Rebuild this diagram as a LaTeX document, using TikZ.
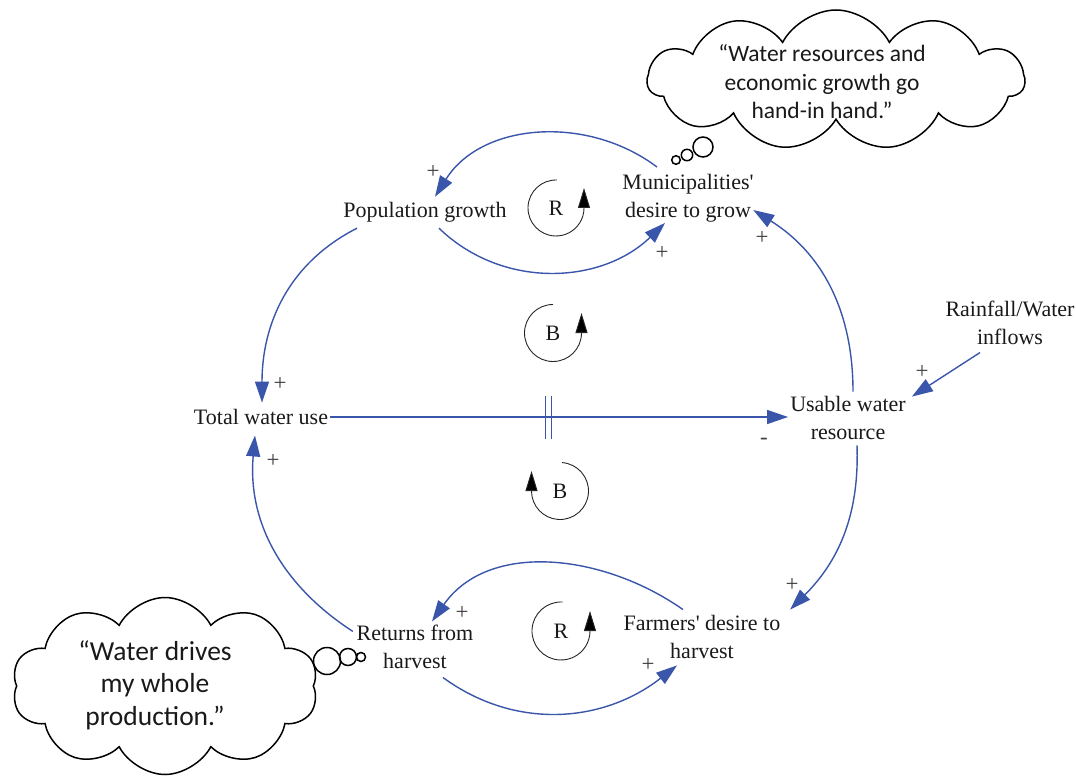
\documentclass[tikz,border=0pt]{standalone}
\usepackage{fontspec}
\setmainfont{Liberation Serif}
\newfontfamily\varfont{Liberation Serif}
\newfontfamily\cloudfont{Carlito}
\usetikzlibrary{arrows.meta,shapes.symbols}
\definecolor{linkblue}{RGB}{58,86,170}
\definecolor{signgray}{RGB}{64,64,64}
\begin{document}
\begin{tikzpicture}[x=1pt,y=1pt,
  var/.style={font=\varfont\fontsize{22}{27.5}\selectfont, align=center, inner sep=2pt, text=black!90},
  link/.style={draw=linkblue, line width=1.4pt, -{Triangle[length=21pt,width=14pt]}},
  plain/.style={draw=linkblue, line width=1.4pt},
  sign/.style={font=\fontsize{23}{23}\selectfont, text=signgray, inner sep=0pt},
  loopletter/.style={font=\fontsize{22}{22}\selectfont, inner sep=0pt, text=black!90},
  loopline/.style={draw=black!85, line width=0.9pt, -{Triangle[length=20pt,width=12pt,fill=black]}},
  thought/.style={cloud, draw=black, line width=1.5pt, cloud puffs=#1, cloud puff arc=125, cloud ignores aspect, inner sep=0pt},
  bubble/.style={draw=black, line width=1.5pt},
  quote/.style={align=center, inner sep=0pt, text=black!90}
]
\useasboundingbox (0,0) rectangle (1076,-778);

% variables
\node[var] (pop) at (425,-212) {Population growth};
\node[var] (muni) at (688,-198) {Municipalities'\\desire to grow};
\node[var] (total) at (261,-417) {Total water use};
\node[var] (usable) at (848,-418) {Usable water\\resource};
\node[var] (rain) at (1010,-323) {Rainfall/Water\\inflows};
\node[var] (returns) at (415,-647) {Returns from\\harvest};
\node[var] (farmers) at (702,-637) {Farmers' desire to\\harvest};

% connectors
\draw[link] ([shift={(-31,5)}]muni.north) to[out=143,in=58] ([shift={(10,3)}]pop.north);
\draw[link] ([shift={(14,-4)}]pop.south) to[out=-44,in=-136] ([shift={(-23,1)}]muni.south);
\draw[link] ([shift={(-68,-4)}]pop.south) to[out=207,in=90] ([shift={(1,4.5)}]total.north);
\draw[link] (total.east) -- coordinate[pos=0.477] (delay) (total.east -| usable.west);
\draw[plain] ([shift={(-3,21)}]delay) -- ++(0,-43);
\draw[plain] ([shift={(3,21)}]delay) -- ++(0,-43);
\draw[link] ([shift={(5,2.75)}]usable.north) to[out=90,in=-32] ([shift={(-2.5,-12)}]muni.east);
\draw[link] ([shift={(-30,-5.75)}]rain.south) -- ([shift={(4,-2.25)}]usable.north east);
\draw[link] ([shift={(9,-3.75)}]usable.south) to[out=-88,in=45] ([shift={(7.6,3.75)}]farmers.north east);
\draw[link] ([shift={(-19,3.75)}]farmers.north) to[out=145,in=55] ([shift={(17,1.75)}]returns.north);
\draw[link] ([shift={(28,-6.75)}]returns.south) to[out=-36,in=-142] ([shift={(-25,-4.75)}]farmers.south);
\draw[link] ([shift={(-1.6,-8.25)}]returns.north west) to[out=147,in=-95] ([shift={(-6,-8.5)}]total.south);

% polarity signs
\node[sign] (s1) at (433,-172) {+};
\node[sign] (s2) at (662,-253) {+};
\node[sign] (s3) at (762,-238) {+};
\node[sign] (s4) at (280,-384) {+};
\node[sign] (s5) at (273,-461) {+};
\node[sign] (s6) at (922,-372) {+};
\node[sign] (s7) at (792,-585) {+};
\node[sign] (s8) at (462,-613) {+};
\node[sign] (s9) at (648,-665) {+};
\node[sign] (s10) at (764,-441) {-};

% loop identifiers
\node[loopletter] (r1) at (556,-208) {R};
\draw[loopline] ([shift={(88:28)}]r1.center) arc[start angle=88,end angle=360,radius=28] -- ++(0,20);
\node[loopletter] (b1) at (553,-333) {B};
\draw[loopline] ([shift={(90:28.5)}]b1.center) arc[start angle=90,end angle=360,radius=28.5] -- ++(0,20);
\node[loopletter] (b2) at (560,-491) {B};
\draw[loopline] ([shift={(86:28.5)}]b2.center) arc[start angle=86,end angle=-180,radius=28.5] -- ++(0,20);
\node[loopletter] (r2) at (561,-631) {R};
\draw[loopline] ([shift={(87:29)}]r2.center) arc[start angle=87,end angle=360,radius=29] -- ++(0,20);

% thought clouds
\node[thought=11, minimum width=377pt, minimum height=140pt] (cloudA) at (836,-80) {};
\node[quote, font=\cloudfont\fontsize{23.5}{28.5}\selectfont] (quoteA) at (822,-82) {“Water resources and\\economic growth go\\hand-in hand.”};
\draw[bubble] (676,-160) circle[radius=4.3];
\draw[bubble] (687,-155) circle[radius=5.7];
\draw[bubble] (703,-147) circle[radius=10];

\node[thought=10, minimum width=306pt, minimum height=177pt] (cloudB) at (165,-686) {};
\node[quote, font=\cloudfont\fontsize{27.5}{32.5}\selectfont] (quoteB) at (155,-685) {“Water drives\\my whole\\production.”};
\draw[bubble] (327,-661) circle[radius=13.5];
\draw[bubble] (348,-657) circle[radius=8.5];
\draw[bubble] (361,-657) circle[radius=4.5];
\end{tikzpicture}
\end{document}
